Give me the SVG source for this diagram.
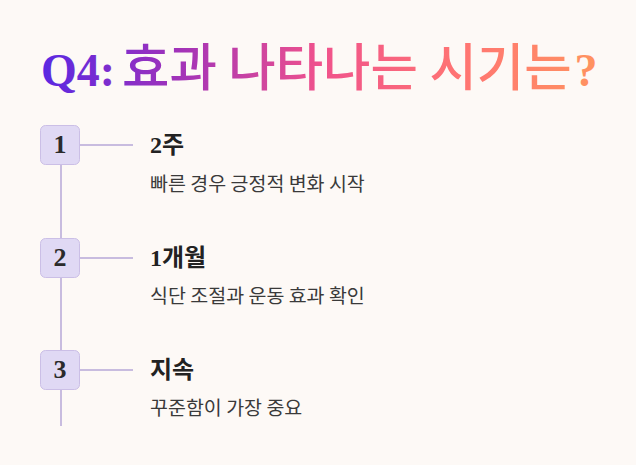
<svg xmlns="http://www.w3.org/2000/svg" width="636" height="465" viewBox="0 0 636 465">
<defs>
<linearGradient id="tg" gradientUnits="userSpaceOnUse" x1="42" y1="0" x2="598" y2="0">
<stop offset="0" stop-color="#5a28e2"/>
<stop offset="0.25" stop-color="#a333b8"/>
<stop offset="0.5" stop-color="#f0528c"/>
<stop offset="0.75" stop-color="#ff7473"/>
<stop offset="1" stop-color="#ff9360"/>
</linearGradient>
</defs>
<style>
.num{font-family:"Liberation Serif","DejaVu Serif",serif;font-weight:700;font-size:26px;fill:#2b2b2b;text-anchor:middle}
.box{fill:#e0d9f4;stroke:#cbbfe6;stroke-width:1}
.ln{stroke:#c8bcdf;stroke-width:2;fill:none}
.ttl{font-family:"Liberation Serif","Noto Sans CJK KR",serif;font-weight:700;font-size:24px;fill:#222}
.ttlk{font-family:"Noto Sans CJK KR",sans-serif}
.desc{font-family:"Noto Sans CJK KR",sans-serif;font-size:19.5px;fill:#3a3a3a}
.head{fill:url(#tg)}
.hl{font-family:"Liberation Serif","DejaVu Serif",serif;font-weight:700;font-size:46px}
.hk{font-family:"Noto Sans CJK KR",sans-serif;font-weight:500;font-size:51.5px}
</style>
<rect width="636" height="465" fill="#fdf9f6"/>
<g id="title">
<text class="head" y="86"><tspan class="hl" x="41">Q4:</tspan><tspan class="hk" x="122">효과 나타나는 시기는</tspan><tspan class="hl" dx="3">?</tspan></text>
</g>
<g id="connectors">
<line class="ln" x1="61" y1="165" x2="61" y2="426"/>
<line class="ln" x1="80" y1="145" x2="133" y2="145"/>
<line class="ln" x1="80" y1="258" x2="133" y2="258"/>
<line class="ln" x1="80" y1="370" x2="133" y2="370"/>
</g>
<g id="node1">
<rect class="box" x="40.5" y="125.5" width="39" height="39" rx="5"/>
<text class="num" x="60" y="153">1</text>
<text class="ttl" x="150" y="153">2<tspan class="ttlk">주</tspan></text>
<text class="desc" x="150" y="191">빠른 경우 긍정적 변화 시작</text>
</g>
<g id="node2">
<rect class="box" x="40.5" y="238.5" width="39" height="39" rx="5"/>
<text class="num" x="60" y="266">2</text>
<text class="ttl" x="150" y="266">1<tspan class="ttlk">개월</tspan></text>
<text class="desc" x="150" y="303">식단 조절과 운동 효과 확인</text>
</g>
<g id="node3">
<rect class="box" x="40.5" y="350.5" width="39" height="39" rx="5"/>
<text class="num" x="60" y="378">3</text>
<text class="ttl" x="150" y="378"><tspan class="ttlk">지속</tspan></text>
<text class="desc" x="150" y="415">꾸준함이 가장 중요</text>
</g>
</svg>
